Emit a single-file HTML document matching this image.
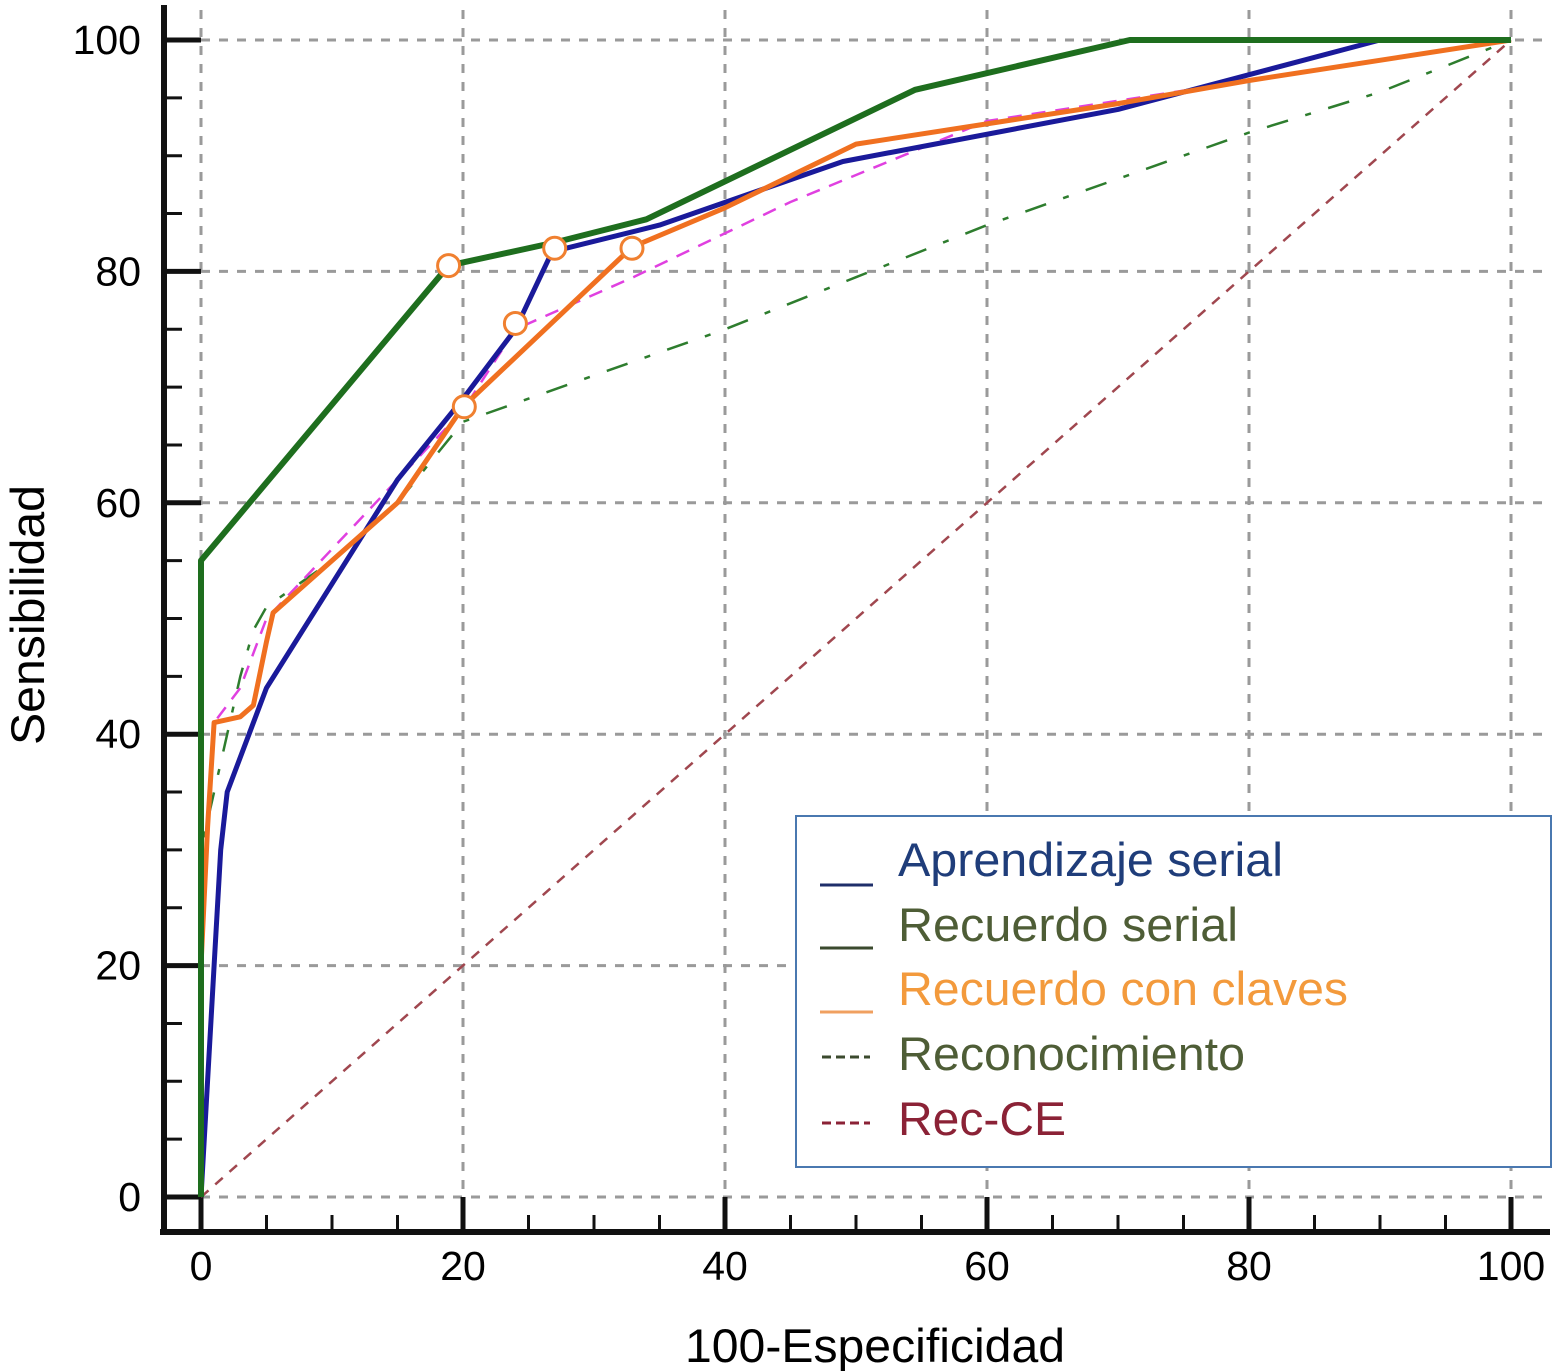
<!DOCTYPE html>
<html><head><meta charset="utf-8"><style>
html,body{margin:0;padding:0;background:#fff;}
svg{display:block;font-family:"Liberation Sans",Arial,sans-serif;}
</style></head><body>
<svg id="chart" width="1556" height="1371" viewBox="0 0 1556 1371">
<g id="grid"></g>
<g id="axes"></g>
<g id="series"></g>
<text x="44" y="615" font-size="47" text-anchor="middle" textLength="260" lengthAdjust="spacingAndGlyphs" transform="rotate(-90 44 615)">Sensibilidad</text>
<text x="875" y="1362" font-size="47" text-anchor="middle" textLength="380" lengthAdjust="spacingAndGlyphs">100-Especificidad</text>
<g>
<rect x="796" y="816" width="755" height="351" fill="#fff" stroke="#4a78b0" stroke-width="2"/>
<line x1="820" y1="885" x2="873" y2="885" stroke="#1f2f6a" stroke-width="3"/>
<text x="898" y="876" font-size="47" fill="#1f3d7a" textLength="385" lengthAdjust="spacingAndGlyphs">Aprendizaje serial</text>
<line x1="820" y1="948" x2="873" y2="948" stroke="#3b4a2e" stroke-width="3"/>
<text x="898" y="941" font-size="47" fill="#4e5d36" textLength="340" lengthAdjust="spacingAndGlyphs">Recuerdo serial</text>
<line x1="820" y1="1012" x2="873" y2="1012" stroke="#f0a060" stroke-width="3"/>
<text x="898" y="1005" font-size="47" fill="#f39a3c" textLength="450" lengthAdjust="spacingAndGlyphs">Recuerdo con claves</text>
<line x1="822" y1="1057" x2="870" y2="1057" stroke="#3b4a2e" stroke-width="3" stroke-dasharray="9 5"/>
<text x="898" y="1070" font-size="47" fill="#4e5d36" textLength="347" lengthAdjust="spacingAndGlyphs">Reconocimiento</text>
<line x1="822" y1="1123" x2="870" y2="1123" stroke="#8b2236" stroke-width="3" stroke-dasharray="9 5"/>
<text x="898" y="1135" font-size="47" fill="#8b2236" textLength="168" lengthAdjust="spacingAndGlyphs">Rec-CE</text>
</g>
</svg>
<script>
const tickValues = [0, 20, 40, 60, 80, 100];
const aprendizajeX = [0, 1, 1.5, 2, 5, 10, 15, 20, 24, 26.8, 35, 49, 70, 90, 100];
const aprendizajeY = [0, 20, 30, 35, 44, 53, 62, 69, 75, 81.7, 84, 89.5, 94, 100, 100];
const recSerialX = [0, 0, 18.9, 27, 34, 54.5, 70.9, 100];
const recSerialY = [0, 55, 80.5, 82.5, 84.5, 95.7, 100, 100];
const clavesX = [0, 0, 0.5, 1, 3, 4, 5, 5.5, 10, 15, 20, 32.9, 40, 50, 70, 80, 100];
const clavesY = [0, 20, 32, 41, 41.5, 42.5, 48, 50.5, 55, 60, 68.3, 82.1, 85.5, 91, 94.5, 96.5, 100];
const magentaX = [0, 0, 1, 3, 5, 10, 20, 24, 33, 45, 60, 100];
const magentaY = [0, 20, 41, 44, 50, 56, 68, 75, 79.5, 86, 93, 100];
const reconX = [0, 0, 1, 2, 3, 4, 5, 10, 15, 20, 30, 40, 50, 60, 70, 80, 90, 100];
const reconY = [0, 30, 35, 40, 45, 49, 51, 55, 60, 67, 71, 75, 79.5, 84, 88, 92, 95.5, 100];
const diagX = [0, 100];
const diagY = [0, 100];
const markerX = [18.9, 24, 27, 32.9, 20.1];
const markerY = [80.5, 75.5, 82, 82, 68.3];

const X0 = 201, X1 = 1511, Y0 = 1197, Y1 = 40;
const sx = v => X0 + (X1 - X0) * v / 100;
const sy = v => Y0 - (Y0 - Y1) * v / 100;
const NS = 'http://www.w3.org/2000/svg';
function mk(tag, attrs, parent) {
  const e = document.createElementNS(NS, tag);
  for (const k in attrs) e.setAttribute(k, attrs[k]);
  parent.appendChild(e);
  return e;
}
const grid = document.getElementById('grid');
const axes = document.getElementById('axes');
const series = document.getElementById('series');

tickValues.forEach(t => {
  const v = mk('line', {x1: sx(t), y1: 10, x2: sx(t), y2: Y0, stroke: '#9a9a9a', 'stroke-width': 3, 'stroke-dasharray': '9 9'}, grid);
  
  
  const h = mk('line', {x1: X0, y1: sy(t), x2: 1550, y2: sy(t), stroke: '#9a9a9a', 'stroke-width': 3, 'stroke-dasharray': '9 9'}, grid);
  
  
});

const xa = mk('line', {x1: 160, y1: 1232, x2: 1550, y2: 1232, stroke: '#111', 'stroke-width': 6}, axes);


const ya = mk('line', {x1: 164, y1: 5, x2: 164, y2: 1235, stroke: '#111', 'stroke-width': 6}, axes);


for (let t = 0; t <= 100; t += 5) {
  const major = t % 20 === 0;
  const tx = mk('line', {x1: sx(t), y1: 1232, x2: sx(t), y2: major ? Y0 : 1215, stroke: '#111', 'stroke-width': major ? 5 : 3}, axes);
  
  
  const ty = mk('line', {x1: 164, y1: sy(t), x2: major ? X0 : 182, y2: sy(t), stroke: '#111', 'stroke-width': major ? 5 : 3}, axes);
  
  
}
tickValues.forEach(t => {
  const lx = mk('text', {x: sx(t), y: 1280, 'font-size': 41, 'text-anchor': 'middle'}, axes);
  lx.textContent = t;
  
  
  const ly = mk('text', {x: 141, y: sy(t) + 14, 'font-size': 41, 'text-anchor': 'end'}, axes);
  ly.textContent = t;
  
  
});

function line(xs, ys, color, width, dash, name) {
  const pts = xs.map((x, i) => sx(x).toFixed(1) + ',' + sy(ys[i]).toFixed(1)).join(' ');
  const attrs = {points: pts, fill: 'none', stroke: color, 'stroke-width': width, 'stroke-linejoin': 'round'};
  if (dash) attrs['stroke-dasharray'] = dash;
  const p = mk('polyline', attrs, series);
  
  
}
line(diagX, diagY, '#a0474f', 2.5, '10 9', 'series-rec-ce');
line(reconX, reconY, '#2e7d2e', 2.5, '22 18 6 18', 'series-reconocimiento');
line(magentaX, magentaY, '#e040e0', 2.5, '14 10', 'series-magenta');
line(aprendizajeX, aprendizajeY, '#1a1a9a', 5, null, 'series-aprendizaje-serial');
line(clavesX, clavesY, '#f07020', 5, null, 'series-recuerdo-con-claves');
line(recSerialX, recSerialY, '#1e6e1e', 6, null, 'series-recuerdo-serial');
markerX.forEach((x, i) => {
  const c = mk('circle', {cx: sx(x), cy: sy(markerY[i]), r: 11, fill: '#fff', stroke: '#f08030', 'stroke-width': 3}, series);
  
  
});
</script>
</body></html>
